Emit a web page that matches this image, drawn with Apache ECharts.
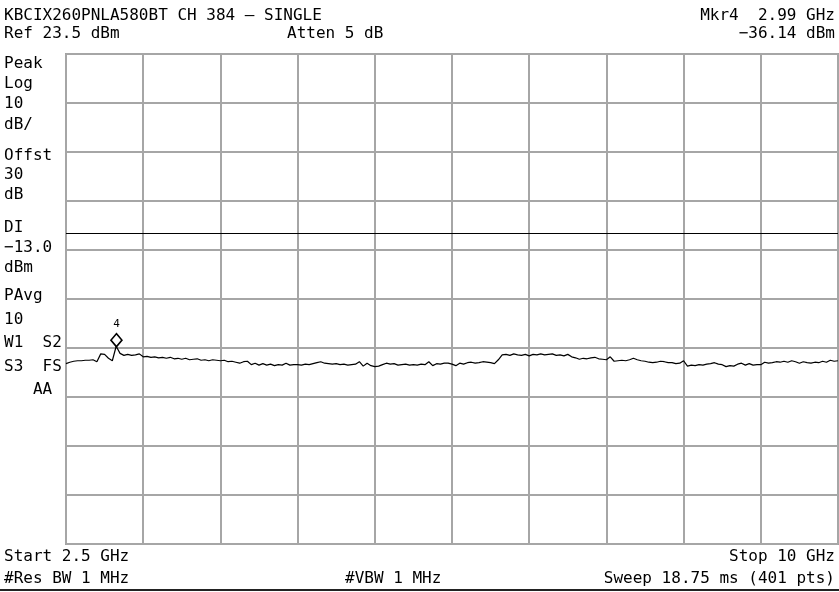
<!DOCTYPE html>
<html>
<head>
<meta charset="utf-8">
<script src="https://cdn.jsdelivr.net/npm/echarts@6/dist/echarts.min.js"></script>
<style>
html,body{margin:0;padding:0;background:#fff;}
#chart{width:839px;height:592px;}
</style>
</head>
<body>
<div id="chart"></div>
<script>
// ---- instrument settings ----
const startGHz = 2.5;
const stopGHz = 10;
const refDbm = 23.5;
const dbPerDiv = 10;
const divisions = 10;
const displayLineDbm = -13.0;
const markerFreqGHz = 2.99;
const markerDbm = -36.14;
const markerName = '4';

// ---- header / footer / side annotations ----
const titleText = 'KBCIX260PNLA580BT CH 384 \u2013 SINGLE';
const refText = 'Ref 23.5 dBm';
const attenText = 'Atten 5 dB';
const mkrFreqText = 'Mkr4  2.99 GHz';
const mkrAmpText = '\u221236.14 dBm';
const startText = 'Start 2.5 GHz';
const stopText = 'Stop 10 GHz';
const rbwText = '#Res BW 1 MHz';
const vbwText = '#VBW 1 MHz';
const sweepText = 'Sweep 18.75 ms (401 pts)';
const sideLabels = ['Peak','Log','10','dB/','Offst','30','dB','DI','\u221213.0','dBm','PAvg','10','W1  S2','S3  FS','   AA'];

// ---- trace (dBm), 201 points evenly spaced from start to stop ----
const traceDbm = [
 -39.7,-39.4,-39.2,-39.1,-39.1,-39.0,-39.0,-38.9,-39.3,-37.7,
 -37.8,-38.6,-39.1,-36.14,-37.6,-38.0,-37.8,-38.0,-37.9,-37.7,
 -38.3,-38.2,-38.4,-38.3,-38.5,-38.4,-38.6,-38.4,-38.7,-38.6,
 -38.8,-38.6,-38.9,-38.8,-38.7,-39.0,-38.9,-39.1,-38.9,-39.0,
 -39.1,-39.0,-39.3,-39.2,-39.4,-39.6,-39.3,-39.2,-39.9,-39.6,
 -40.0,-39.7,-40.0,-39.8,-40.1,-39.9,-40.0,-39.6,-40.0,-39.9,
 -39.9,-40.0,-39.8,-39.9,-39.7,-39.5,-39.3,-39.6,-39.7,-39.8,
 -39.7,-39.9,-39.8,-40.0,-39.9,-39.8,-39.3,-40.2,-39.6,-40.1,
 -40.3,-40.2,-39.9,-39.6,-39.8,-39.7,-40.0,-39.9,-39.8,-40.0,
 -39.9,-40.0,-39.8,-39.9,-39.3,-40.1,-39.7,-39.8,-39.6,-39.6,
 -39.8,-40.1,-39.6,-39.8,-39.5,-39.4,-39.6,-39.5,-39.3,-39.4,
 -39.5,-39.7,-38.9,-37.9,-37.8,-38.0,-37.7,-37.9,-38.0,-37.8,
 -38.1,-37.8,-37.9,-37.7,-37.9,-37.8,-37.7,-38.0,-37.9,-38.1,
 -37.8,-38.3,-38.5,-38.8,-38.6,-38.7,-38.5,-38.4,-38.7,-38.8,
 -38.9,-38.3,-39.2,-39.1,-39.0,-39.1,-38.9,-38.6,-38.9,-39.1,
 -39.2,-39.4,-39.5,-39.4,-39.2,-39.3,-39.5,-39.5,-39.7,-39.6,
 -39.1,-40.2,-40.0,-40.1,-39.9,-40.0,-39.8,-39.7,-39.5,-39.8,
 -39.9,-40.3,-40.1,-40.2,-39.8,-39.6,-40.0,-39.7,-40.0,-39.9,
 -39.9,-39.4,-39.6,-39.5,-39.3,-39.4,-39.2,-39.4,-39.1,-39.3,
 -39.6,-39.3,-39.5,-39.6,-39.4,-39.5,-39.2,-39.4,-39.0,-39.2,
 -39.1
];

const stepGHz = (stopGHz - startGHz) / (traceDbm.length - 1);
const traceData = traceDbm.map((v, i) => [startGHz + i * stepGHz, v]);

const FONT = '"DejaVu Sans Mono", monospace';
const FS = 16;
const GRID = {left: 66, top: 54, width: 772, height: 490};

function txt(text, x, y, align) {
  return {type: 'text', x: x, y: y, silent: true,
    style: {text: text, font: FS + 'px ' + FONT, fill: '#000', textAlign: align || 'left', textVerticalAlign: 'middle'}};
}
const sideY = [64,84,104,125,156,175,195,228,248,268,296,320,343,367,390];
const graphics = [
  txt(titleText, 4, 16),
  txt(refText, 4, 34),
  txt(attenText, 287, 34),
  txt(mkrFreqText, 835, 16, 'right'),
  txt(mkrAmpText, 835, 34, 'right'),
  txt(startText, 4, 557),
  txt(stopText, 835, 557, 'right'),
  txt(rbwText, 4, 579),
  txt(vbwText, 345, 579),
  txt(sweepText, 835, 579, 'right'),
  {type: 'line', silent: true, shape: {x1: 0, y1: 590, x2: 839, y2: 590}, style: {stroke: '#222', lineWidth: 2}}
];
sideLabels.forEach((s, i) => graphics.push(txt(s, 4, sideY[i])));

const chart = echarts.init(document.getElementById('chart'), null, {renderer: 'canvas'});
chart.setOption({
  animation: false,
  backgroundColor: '#fff',
  grid: Object.assign({show: true, borderColor: '#a0a0a0', borderWidth: 2, backgroundColor: '#fff'}, GRID),
  xAxis: [
    {type: 'value', min: startGHz, max: stopGHz, show: false},
    {type: 'value', min: 0, max: divisions, interval: 1, position: 'bottom',
     axisLine: {show: false}, axisTick: {show: false}, axisLabel: {show: false},
     splitLine: {show: true, lineStyle: {color: '#a6a6a6', width: 2}}}
  ],
  yAxis: [
    {type: 'value', min: refDbm - dbPerDiv * divisions, max: refDbm, show: false},
    {type: 'value', min: 0, max: divisions, interval: 1, position: 'left',
     axisLine: {show: false}, axisTick: {show: false}, axisLabel: {show: false},
     splitLine: {show: true, lineStyle: {color: '#a6a6a6', width: 2}}}
  ],
  graphic: graphics,
  series: [{
    type: 'line',
    xAxisIndex: 0, yAxisIndex: 0,
    data: traceData,
    showSymbol: false,
    symbol: 'none',
    lineStyle: {color: '#000', width: 1.2},
    z: 5,
    markLine: {
      silent: true, symbol: 'none', label: {show: false},
      lineStyle: {color: '#000', width: 1.2, type: 'solid'},
      data: [{yAxis: displayLineDbm}]
    },
    markPoint: {
      silent: true,
      data: [{coord: [markerFreqGHz, markerDbm], value: markerName}],
      symbol: 'diamond', symbolSize: [11, 13], symbolOffset: [0, -6],
      itemStyle: {color: '#fff', borderColor: '#000', borderWidth: 1.6},
      label: {show: true, position: 'top', distance: 3, color: '#000', fontSize: 11, fontFamily: FONT, formatter: markerName}
    }
  }]
});
</script>
</body>
</html>
